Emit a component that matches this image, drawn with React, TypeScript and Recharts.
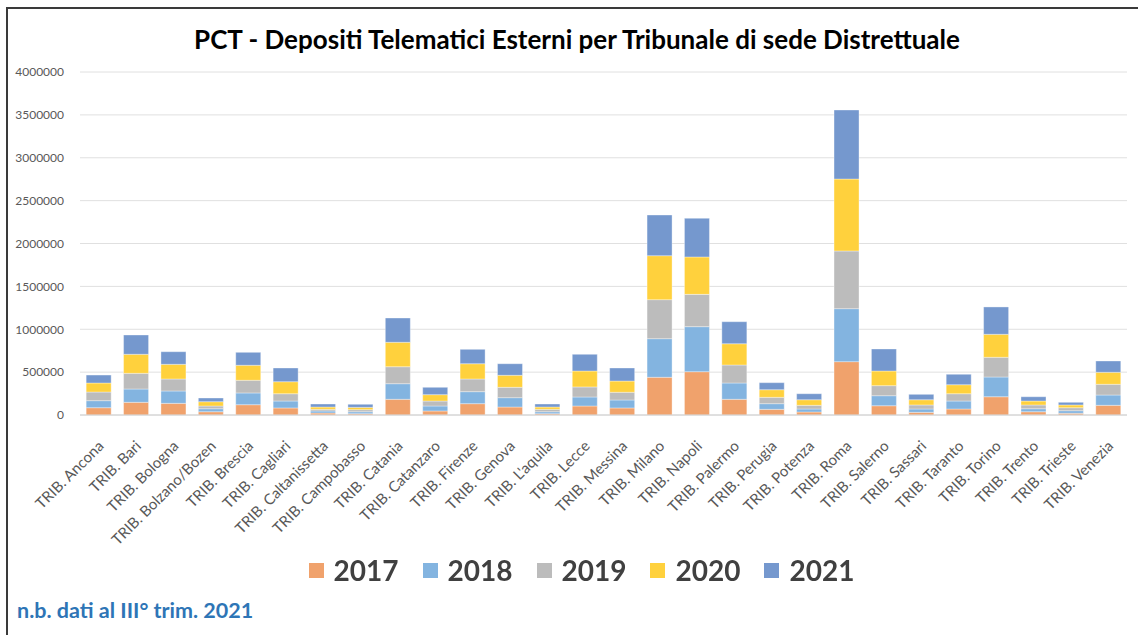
import { BarChart, Bar, XAxis, YAxis, CartesianGrid } from "recharts";

const categories: string[] = [
  "TRIB. Ancona",
  "TRIB. Bari",
  "TRIB. Bologna",
  "TRIB. Bolzano/Bozen",
  "TRIB. Brescia",
  "TRIB. Cagliari",
  "TRIB. Caltanissetta",
  "TRIB. Campobasso",
  "TRIB. Catania",
  "TRIB. Catanzaro",
  "TRIB. Firenze",
  "TRIB. Genova",
  "TRIB. L'aquila",
  "TRIB. Lecce",
  "TRIB. Messina",
  "TRIB. Milano",
  "TRIB. Napoli",
  "TRIB. Palermo",
  "TRIB. Perugia",
  "TRIB. Potenza",
  "TRIB. Roma",
  "TRIB. Salerno",
  "TRIB. Sassari",
  "TRIB. Taranto",
  "TRIB. Torino",
  "TRIB. Trento",
  "TRIB. Trieste",
  "TRIB. Venezia",
];

const v2017: number[] = [
  85000, 148000, 136000, 38000, 120000, 82000, 23000, 15000, 183000, 47000,
  132000, 93000, 15000, 105000, 82000, 440000, 505000, 183000, 66000, 35000,
  622000, 108000, 31000, 70000, 213000, 38000, 20000, 113000,
];
const v2018: number[] = [
  82000, 155000, 144000, 35000, 137000, 81000, 24000, 23000, 182000, 58000,
  140000, 109000, 23000, 105000, 93000, 450000, 525000, 190000, 66000, 35000,
  618000, 117000, 39000, 93000, 230000, 35000, 30000, 120000,
];
const v2019: number[] = [
  101000, 183000, 140000, 32000, 148000, 85000, 19000, 24000, 198000, 58000,
  148000, 121000, 28000, 117000, 90000, 455000, 377000, 210000, 74000, 43000,
  673000, 117000, 47000, 85000, 230000, 44000, 35000, 125000,
];
const v2020: number[] = [
  105000, 222000, 171000, 50000, 175000, 140000, 27000, 27000, 285000, 74000,
  178000, 140000, 27000, 186000, 131000, 513000, 436000, 248000, 89000, 65000,
  839000, 171000, 61000, 105000, 268000, 46000, 32000, 140000,
];
const v2021: number[] = [
  93000, 225000, 147000, 43000, 151000, 160000, 35000, 36000, 283000, 86000,
  168000, 135000, 35000, 195000, 152000, 474000, 451000, 257000, 82000, 70000,
  805000, 257000, 63000, 122000, 319000, 50000, 31000, 132000,
];

const yTicks: number[] = [
  0, 500000, 1000000, 1500000, 2000000, 2500000, 3000000, 3500000, 4000000,
];

const series = [
  { key: "y2017", label: "2017", color: "#F0A26C" },
  { key: "y2018", label: "2018", color: "#83B4E0" },
  { key: "y2019", label: "2019", color: "#BCBCBC" },
  { key: "y2020", label: "2020", color: "#FFD13D" },
  { key: "y2021", label: "2021", color: "#7598CE" },
];

const data = categories.map((name, i) => ({
  name,
  y2017: v2017[i],
  y2018: v2018[i],
  y2019: v2019[i],
  y2020: v2020[i],
  y2021: v2021[i],
}));

const FONT = "Lato, 'Open Sans', sans-serif";

function CategoryTick(props: any) {
  const { x, y, payload } = props;
  return (
    <g transform={`translate(${x + 6},${y + 24})`}>
      <text
        transform="rotate(-45)"
        textAnchor="end"
        fontSize={15}
        fontFamily={FONT}
        fill="#595959"
      >
        {payload.value}
      </text>
    </g>
  );
}

export default function App() {
  return (
    <div
      style={{
        position: "fixed",
        left: 0,
        top: 0,
        width: 1138,
        height: 635,
        background: "#fff",
        fontFamily: FONT,
      }}
    >
      <div
        style={{
          position: "absolute",
          left: 6,
          top: 7,
          width: 1132,
          height: 628,
          borderTop: "2px solid #3a3a3a",
          borderLeft: "2px solid #3a3a3a",
          boxSizing: "border-box",
        }}
      />
      <div
        style={{
          position: "absolute",
          left: 0,
          top: 23,
          width: 1154,
          textAlign: "center",
          fontSize: 26,
          fontWeight: 700,
          color: "#000",
        }}
      >
        PCT - Depositi Telematici Esterni per Tribunale di sede Distrettuale
      </div>
      <div style={{ position: "absolute", left: 0, top: 0 }}>
        <BarChart
          width={1138}
          height={560}
          data={data}
          margin={{ top: 72, right: 11, bottom: 0, left: 0 }}
          barCategoryGap="16.5%"
        >
          <CartesianGrid vertical={false} stroke="#e0e0e0" />
          <XAxis
            dataKey="name"
            interval={0}
            height={145}
            tickLine={false}
            axisLine={{ stroke: "#d0d0d0" }}
            tick={<CategoryTick />}
          />
          <YAxis
            width={80}
            domain={[0, 4000000]}
            ticks={yTicks}
            axisLine={false}
            tickLine={false}
            tickMargin={10}
            tick={{ fontSize: 12, fill: "#595959", fontFamily: FONT }}
          />
          {series.map((s) => (
            <Bar
              key={s.key}
              dataKey={s.key}
              stackId="a"
              fill={s.color}
              stroke="#ffffff"
              strokeOpacity={0.35}
              strokeWidth={1}
              isAnimationActive={false}
            />
          ))}
        </BarChart>
      </div>
      <div
        style={{
          position: "absolute",
          left: 0,
          top: 553,
          width: 1163,
          display: "flex",
          justifyContent: "center",
          gap: 24,
        }}
      >
        {series.map((s) => (
          <div
            key={s.key}
            style={{ display: "flex", alignItems: "center", gap: 10 }}
          >
            <span
              style={{
                width: 15,
                height: 15,
                background: s.color,
                display: "inline-block",
              }}
            />
            <span style={{ fontSize: 28, fontWeight: 700, color: "#404040" }}>
              {s.label}
            </span>
          </div>
        ))}
      </div>
      <div
        style={{
          position: "absolute",
          left: 17,
          top: 597,
          fontSize: 21.5,
          fontWeight: 700,
          color: "#2E75B6",
        }}
      >
        n.b. dati al III° trim. 2021
      </div>
    </div>
  );
}
